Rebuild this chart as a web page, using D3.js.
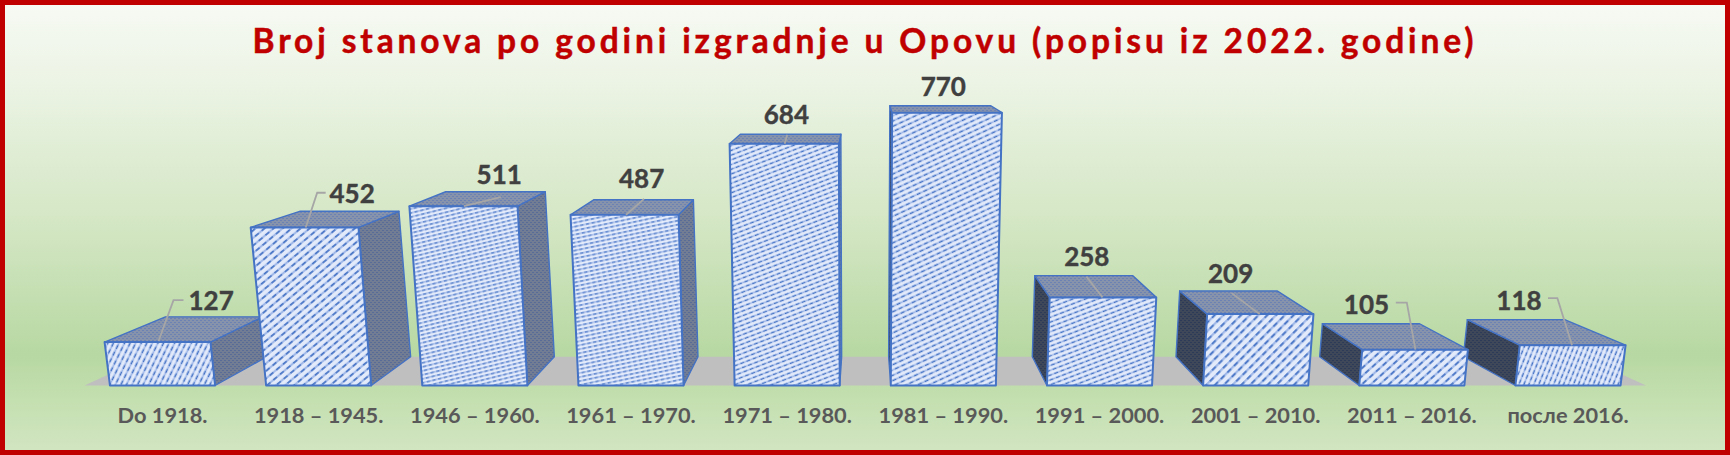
<!DOCTYPE html>
<html><head><meta charset="utf-8">
<script src="https://cdn.jsdelivr.net/npm/d3@7"></script>
<style>html,body{margin:0;padding:0;background:#fff}svg{display:block}</style>
</head><body><svg id="c" width="1730" height="455"></svg>
<script>
const titleText = "Broj stanova po godini izgradnje u Opovu (popisu iz 2022. godine)";
const categories = ["Do 1918.","1918 – 1945.","1946 – 1960.","1961 – 1970.","1971 – 1980.","1981 – 1990.","1991 – 2000.","2001 – 2010.","2011 – 2016.","после 2016."];
const values = [127,452,511,487,684,770,258,209,105,118];
// layout only
const stripeAngles = [64,40,14,12,21,25,21,45,42,68];
const stripePeriods = [5,5.8,3.9,3.9,4.4,4.8,4.5,6.2,6,4.6];
const labelOffsets = [[48.6,-41.4],[33.5,-33.4],[24.4,-32],[10.6,-35.7],[-.8,-28.7],[0,-26],[-12.7,-40.7],[-25,-40.8],[-45.4,-44.6],[-49,-44.5]];
const leaderOffsets = [[[-4,-1],[11,-42],[21,-42]],[[-13,0],[-1.5,-34.7],[7,-34.7]],[[-11,0],[26,-9]],[[-5,0],[13,-16]],[[-2.5,0],[0,-9]],[],[[3,0],[-13,-20.7]],[[4,0],[-24,-21]],[[3.6,0],[-5,-47],[-16,-47]],[[4,0],[-10.6,-47],[-20,-47]]];

const W=1730,H=455;
const svg=d3.select("#c"), defs=svg.append("defs");
const x=d3.scaleBand().domain(categories).range([84.5,1646]).paddingInner(.327).paddingOuter(.163);
const y=d3.scaleLinear().domain([0,260,770]).range([385.5,296.7,112.7]);
// perspective
const vp=[864,26], k=.08, xc=861, D=6090;
const up=(px,v)=>{const h=y(0)-y(v);return [px+(px-xc)/D*h,y(v)]};
const back=p=>[p[0]+(vp[0]-p[0])*k,p[1]+(vp[1]-p[1])*k];
const path=d=>"M"+d.map(p=>p.join(",")).join("L")+"Z";

const bg=defs.append("linearGradient").attr("id","bg").attr("x1",0).attr("x2",0).attr("y1",0).attr("y2",1);
[[0,"#f7faf4"],[.18,"#ecf4e5"],[.5,"#d3e6c3"],[.78,"#b7d8a2"],[.88,"#c4dfb0"],[1,"#d3e6c3"]].forEach(s=>bg.append("stop").attr("offset",s[0]).attr("stop-color",s[1]));

function fine(id,a,b){
  const p=defs.append("pattern").attr("id",id).attr("patternUnits","userSpaceOnUse").attr("width",4).attr("height",4);
  p.append("rect").attr("width",4).attr("height",4).attr("fill",a);
  p.append("rect").attr("width",2).attr("height",1).attr("fill",b);
  p.append("rect").attr("x",2).attr("y",2).attr("width",2).attr("height",1).attr("fill",b);
}
fine("sideR","#727d93","#596c98");
fine("sideL","#3f4859","#2e3b58");
fine("topF","#8793ab","#6c82b2");

values.forEach((v,i)=>{
  const per=stripePeriods[i], tw=per*1.5;
  const p=defs.append("pattern").attr("id","st"+i).attr("patternUnits","userSpaceOnUse")
    .attr("width",tw).attr("height",per).attr("patternTransform",`rotate(${-stripeAngles[i]})`);
  p.append("rect").attr("width",tw).attr("height",per).attr("fill","#e3ebfb");
  p.append("rect").attr("y",per*.3).attr("width",tw).attr("height",Math.max(1.3,per*.34)).attr("fill","#9db6e7");
  p.append("rect").attr("y",per*.34).attr("width",tw*.55).attr("height",Math.max(1.1,per*.28)).attr("fill","#4472c4");
});

svg.append("rect").attr("width",W).attr("height",H).attr("fill","url(#bg)");

// floor
const [r0,r1]=x.range(), fl=[[r0,y(0)],[r1,y(0)]];
svg.append("path").attr("d",path([fl[0],fl[1],back(fl[1]),back(fl[0])])).attr("fill","#bfbfbf");

// bars, drawn from the outer ends toward the vanishing point
const order=d3.range(values.length).sort((a,b)=>Math.abs(x(categories[b])+x.bandwidth()/2-vp[0])-Math.abs(x(categories[a])+x.bandwidth()/2-vp[0]));
const bars=svg.append("g").attr("stroke","#4472c4").attr("stroke-linejoin","round");
order.forEach(i=>{
  const v=values[i], x0=x(categories[i]), x1=x0+x.bandwidth();
  const bl=[x0,y(0)], br=[x1,y(0)], tl=up(x0,v), tr=up(x1,v);
  const g=bars.append("g");
  if(x1<vp[0]) g.append("path").attr("d",path([br,tr,back(tr),back(br)])).attr("fill","url(#sideR)").attr("stroke-width",1.4);
  else g.append("path").attr("d",path([bl,tl,back(tl),back(bl)])).attr("fill","url(#sideL)").attr("stroke-width",1.4);
  g.append("path").attr("d",path([tl,tr,back(tr),back(tl)])).attr("fill","url(#topF)").attr("stroke-width",1.4);
  g.append("path").attr("d",path([bl,br,tr,tl])).attr("fill",`url(#st${i})`).attr("stroke-width",2);
});

// leaders and value labels
const cx=i=>x(categories[i])+x.bandwidth()/2;
const line=d3.line();
svg.append("g").selectAll("path").data(values.map((v,i)=>i).filter(i=>leaderOffsets[i].length)).join("path")
  .attr("d",i=>line(leaderOffsets[i].map(o=>[cx(i)+o[0],y(values[i])+o[1]])))
  .attr("fill","none").attr("stroke","#a6a6a6").attr("stroke-width",1.8);
svg.append("g").selectAll("text").data(values).join("text")
  .attr("x",(v,i)=>cx(i)+labelOffsets[i][0]).attr("y",(v,i)=>y(v)+labelOffsets[i][1]).attr("dy",".36em")
  .attr("text-anchor","middle").attr("font-family","Lato").attr("font-weight",700).attr("font-size",26)
  .attr("stroke","#404040").attr("stroke-width",.4)
  .attr("fill","#404040").text(d=>d);

// category axis
const ax=svg.append("g").attr("transform",`translate(0,${y(0)})`).call(d3.axisBottom(x).tickSize(0).tickPadding(22));
ax.select(".domain").remove();
ax.selectAll("text").attr("font-family","Lato").attr("font-weight",700).attr("font-size",21.8).attr("fill","#595959");

svg.append("text").attr("x",865).attr("y",53.3).attr("text-anchor","middle").attr("font-family","Lato").attr("font-weight",700)
  .attr("font-size",33.5).attr("letter-spacing",3.9).attr("fill","#c00000").attr("stroke","#c00000").attr("stroke-width",.5).text(titleText);
svg.append("rect").attr("x",2.5).attr("y",2.5).attr("width",W-5).attr("height",H-5).attr("fill","none").attr("stroke","#c00000").attr("stroke-width",5);
</script></body></html>
